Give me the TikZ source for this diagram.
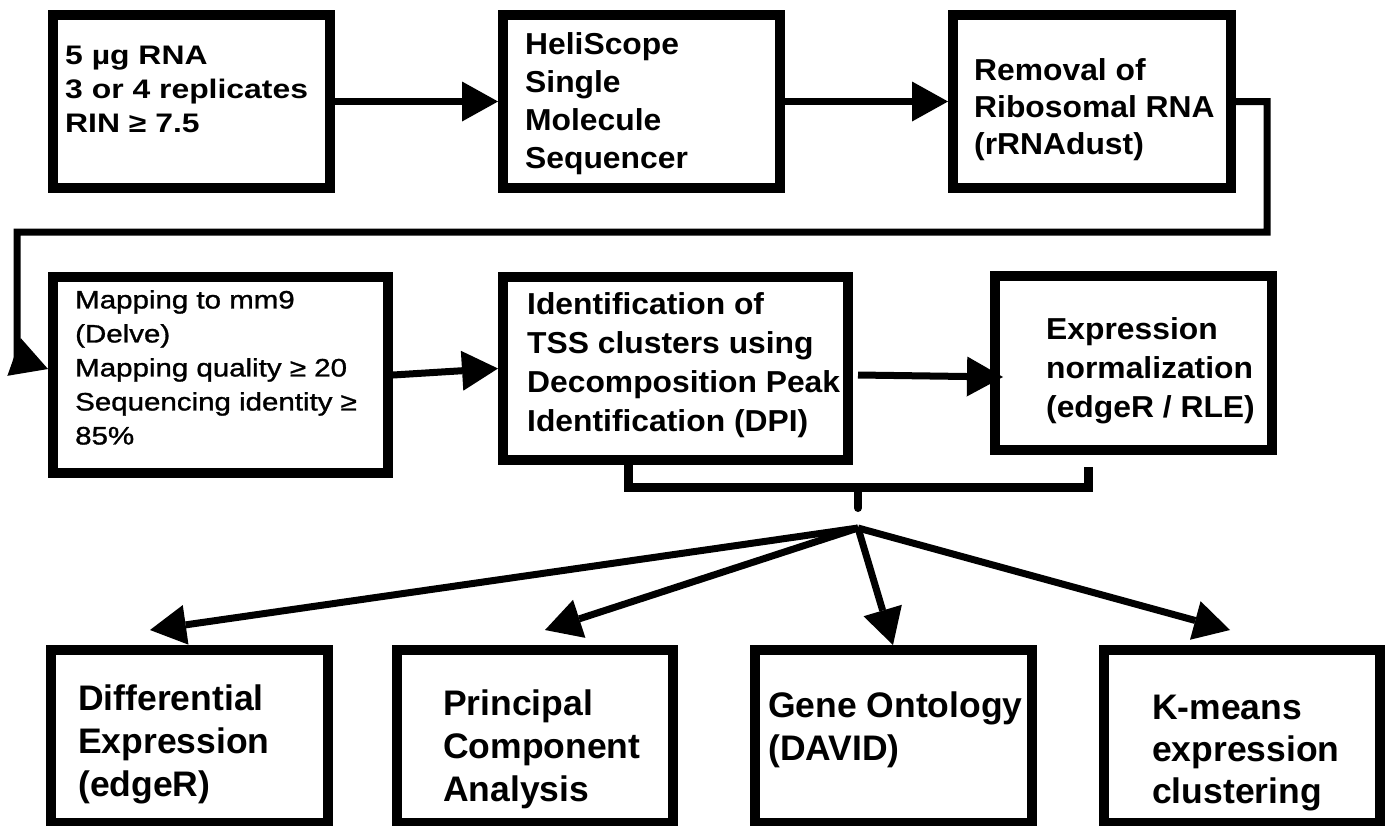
\documentclass[tikz,border=0pt]{standalone}
\usepackage{fontspec}
\setmainfont{Liberation Sans}
\newfontfamily\wideA[FakeStretch=1.19]{Liberation Sans}
\newfontfamily\wideR[FakeStretch=1.17, FakeBold=1.2]{Liberation Sans}
\newfontfamily\wideB[FakeStretch=1.05]{Liberation Sans}
\usetikzlibrary{arrows.meta,calc}
\tikzset{
  box/.style={draw=black, line width=10pt, fill=white, inner sep=0pt},
  conn/.style={line width=7pt, draw=black},
  arr/.style={conn, -{Triangle[length=36pt,width=40pt,line width=0pt]}},
  txt/.style={anchor=north west, inner sep=0pt, align=left, text=black},
  txtA/.style={txt, font=\wideA\bfseries\fontsize{26.8}{34}\selectfont},
  txtR/.style={txt, font=\wideR\fontsize{25.2}{34}\selectfont},
  txtB/.style={txt, font=\wideB\bfseries\fontsize{30.3}{#1}\selectfont},
  txtC/.style={txt, font=\bfseries\fontsize{35.5}{#1}\selectfont},
}
\begin{document}
\begin{tikzpicture}[x=1pt, y=-1pt]
\clip (0,0) rectangle (1392,825);
\fill[white] (0,0) rectangle (1392,825);

% first row
\node[box, minimum width=277pt, minimum height=173pt] (b1) at (191.5,101.5) {};
\node[box, minimum width=277pt, minimum height=173pt] (b2) at (641.5,101.5) {};
\node[box, minimum width=278pt, minimum height=173pt] (b3) at (1092,101.5) {};
% second row
\node[box, minimum width=335pt, minimum height=196pt] (b4) at (220.5,375) {};
\node[box, minimum width=345pt, minimum height=183pt] (b5) at (675.5,368.5) {};
\node[box, minimum width=277pt, minimum height=174pt] (b6) at (1133.5,363) {};
% analysis row
\node[box, minimum width=277pt, minimum height=173pt] (d1) at (189.5,736.5) {};
\node[box, minimum width=276pt, minimum height=173pt] (d2) at (535,736.5) {};
\node[box, minimum width=277pt, minimum height=173pt] (d3) at (893.5,736.5) {};
\node[box, minimum width=276pt, minimum height=173pt] (d4) at (1242,736.5) {};

% box texts
\node[txtA] (t1) at (65,46) {5 µg RNA\\3 or 4 replicates\\RIN ≥ 7.5};
\node[txtB=38] (t2) at (525,32) {HeliScope\\Single\\Molecule\\Sequencer};
\node[txtB=37] (t3) at (974,58) {Removal of\\Ribosomal RNA\\(rRNAdust)};
\node[txtR] (t4) at (75,290) {Mapping to mm9\\(Delve)\\Mapping quality ≥ 20\\Sequencing identity ≥\\85\%};
\node[txtB=39] (t5) at (527,292) {Identification of\\TSS clusters using\\Decomposition Peak\\Identification (DPI)};
\node[txtB=39] (t6) at (1046,317) {Expression\\normalization\\(edgeR / RLE)};
\node[txtC=43] (t7) at (78,685) {Differential\\Expression\\(edgeR)};
\node[txtC=43] (t8) at (443,690) {Principal\\Component\\Analysis};
\node[txtC=43] (t9) at (768,692) {Gene Ontology\\(DAVID)};
\node[txtC=42] (t10) at (1152,695) {K-means\\expression\\clustering};

% pipeline connectors
\draw[arr] (b1.east) -- (b2.west);
\draw[arr] (b2.east) -- (b3.west);
\coordinate (r1) at (1267,101.5);
\coordinate (r2) at (1267,232);
\coordinate (r3) at (17,232);
\coordinate (r4) at (17,358);
\draw[arr] (b3.east) -- (r1) -- (r2) -- (r3) -- (r4) -- ($(b4.west)+(0,-6)$);
\draw[arr] (b4.east) -- (b5.west);
\draw[arr] ($(b5.east)+(5,6.5)$) -- ($(b6.west)+(13,14)$);

% bracket joining the two result boxes
\coordinate (k1) at (628,487);
\coordinate (k2) at (1088,487);
\coordinate (stemtop) at (858,487);
\coordinate (stemend) at (858,508);
\coordinate (hub) at (858,528);
\draw[line width=9pt] ($(b5.south west)+(130,0)$) -- (k1) -- (k2) -- ($(b6.south west)+(98,12)$);
\draw[line width=8pt, line cap=round] (stemtop) -- (stemend);

% fan-out to the analyses
\draw[arr] (hub) -- ($(d1.north west)+(104,-15)$);
\draw[arr] (hub) -- ($(d2.north west)+(153,-15)$);
\draw[arr] (hub) -- ($(d3.north west)+(143,0)$);
\draw[arr] (hub) -- ($(d4.north west)+(131,-15)$);
\end{tikzpicture}
\end{document}
